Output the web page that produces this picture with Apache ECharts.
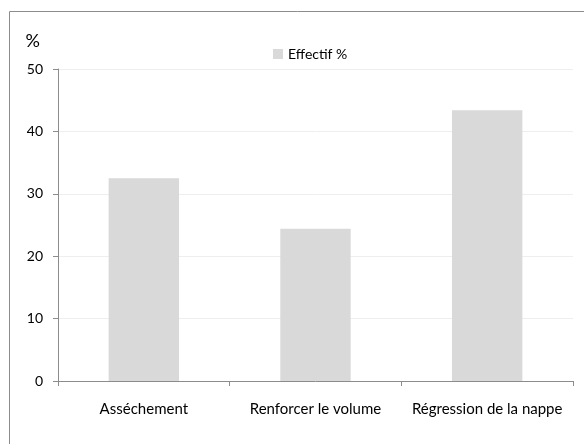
<!DOCTYPE html>
<html>
<head>
<meta charset="utf-8">
<script src="https://cdn.jsdelivr.net/npm/echarts@6/dist/echarts.min.js"></script>
<style>
html, body { margin: 0; padding: 0; background: #fff; }
#chart { width: 584px; height: 444px; }
</style>
</head>
<body>
<div id="chart"></div>
<script>
var categories = ['Asséchement', 'Renforcer le volume', 'Régression de la nappe'];
var effectif = [32.5, 24.4, 43.4];
var seriesName = 'Effectif %';

var font = 'Lato, "Open Sans", sans-serif';

var myChart = echarts.init(document.getElementById('chart'));
var option = {
	animation: false,
	graphic: [{
		type: 'rect',
		shape: { x: 9.5, y: 11.5, width: 600, height: 460 },
		style: { fill: 'none', stroke: '#8c8c8c', lineWidth: 1 }
	}],
	legend: {
		top: 42,
		left: 268,
		itemWidth: 10,
		itemHeight: 10,
		itemGap: 5,
		icon: 'rect',
		textStyle: { fontFamily: font, fontSize: 14, color: '#000' },
		data: [seriesName]
	},
	grid: { left: 58, right: 11, top: 69, bottom: 63, containLabel: false },
	xAxis: {
		type: 'category',
		data: categories,
		axisLine: { lineStyle: { color: '#8c8c8c' } },
		axisTick: { show: true, interval: 0, length: 5, lineStyle: { color: '#8c8c8c' } },
		axisLabel: { interval: 0, margin: 21, fontFamily: font, fontSize: 15, color: '#000' }
	},
	yAxis: {
		type: 'value',
		min: 0,
		max: 50,
		interval: 10,
		name: '%',
		nameLocation: 'end',
		nameGap: 19,
		nameTextStyle: { fontFamily: font, fontSize: 18, color: '#000', align: 'right', padding: [0, 18, 0, 0] },
		axisLine: { show: true, lineStyle: { color: '#8c8c8c' } },
		axisTick: { show: true, length: 5, lineStyle: { color: '#8c8c8c' } },
		axisLabel: { margin: 15, fontFamily: font, fontSize: 14, color: '#000' },
		splitLine: { lineStyle: { color: '#eeeeee' } }
	},
	series: [{
		name: seriesName,
		type: 'bar',
		data: effectif,
		barWidth: '41%',
		itemStyle: { color: '#d9d9d9' }
	}]
};
myChart.setOption(option);
</script>
</body>
</html>
